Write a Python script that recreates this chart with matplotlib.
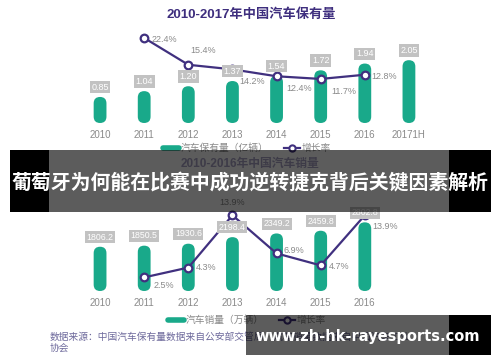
import numpy as np
import matplotlib.pyplot as plt
from matplotlib.patches import FancyBboxPatch, Rectangle
from matplotlib.lines import Line2D

plt.rcParams['font.family'] = ['Liberation Sans', 'Noto Sans CJK SC', 'DejaVu Sans']

# 数据
years_top = ['2010', '2011', '2012', '2013', '2014', '2015', '2016', '20171H']
stock = [0.85, 1.04, 1.20, 1.37, 1.54, 1.72, 1.94, 2.05]
stock_growth = [22.4, 15.4, 14.2, 12.4, 11.7, 12.8]   # 2011-2016

years_bot = ['2010', '2011', '2012', '2013', '2014', '2015', '2016']
sales = [1806.2, 1850.5, 1930.6, 2198.4, 2349.2, 2459.8, 2802.8]
sales_growth = [2.5, 4.3, 13.9, 6.9, 4.7, 13.9]        # 2011-2016

# 增长率标签偏移 (points)
top_offsets = [(5, -1, 'left'), (11, 10, 'center'), (14, -9, 'center'),
               (16, -9, 'center'), (17, -9, 'center'), (4.5, -1, 'left')]
bot_offsets = [(14, -6, 'center'), (5.5, 0, 'left'), (0, 9, 'center'),
               (5, 2, 'left'), (5.5, -1, 'left'), (5.5, -8, 'left')]

GREEN = '#19a98a'
PURPLE = '#40307f'
GRAY = '#8a8a8a'
BOXGRAY = '#c2c2c2'

W, H = 500, 362
fig = plt.figure(figsize=(5, 3.62), dpi=100)


def rounded_bars(ax, x, vals, width):
    bars = ax.bar(x, vals, width=width)
    p0 = ax.transData.transform((0, 0))
    p1 = ax.transData.transform((1, 1))
    aspect = (p1[0] - p0[0]) / (p1[1] - p0[1])
    for b in bars:
        bx, by = b.get_x(), b.get_y()
        bw, bh = b.get_width(), b.get_height()
        b.remove()
        ax.add_patch(FancyBboxPatch((bx, by), bw, bh,
                                    boxstyle=f'round,pad=0,rounding_size={bw / 2}',
                                    mutation_aspect=aspect, fc=GREEN, ec='none'))


def draw_chart(bottom_px, top_px, labels, vals, growth, ymax, gmin, gmax,
               fmt, offsets, lab_size):
    ax = fig.add_axes([78 / W, 1 - bottom_px / H, 353 / W, (bottom_px - top_px) / H])
    x = np.arange(len(labels))
    ax.set_xlim(-0.5, 7.5)
    ax.set_ylim(0, ymax)
    rounded_bars(ax, x, vals, 0.29)
    ax.set_xticks(x)
    ax.set_xticklabels(labels, fontsize=7, color=GRAY)
    ax.tick_params(axis='x', length=0, pad=5)
    ax.set_yticks([])
    for s in ax.spines.values():
        s.set_visible(False)

    ax2 = ax.twinx()
    ax2.set_ylim(gmin, gmax)
    ax2.set_axis_off()
    gx = x[1:len(growth) + 1]
    ax2.plot(gx, growth, color=PURPLE, lw=1.6, marker='o', ms=5.5,
             mfc='white', mec=PURPLE, mew=1.6, zorder=2)
    for xi, g, (dx, dy, ha) in zip(gx, growth, offsets):
        ax2.annotate(f'{g}%', (xi, g), xytext=(dx, dy), textcoords='offset points',
                     ha=ha, va='center', fontsize=6.5, color=GRAY)
    for xi, v in zip(x, vals):
        ax2.annotate(fmt.format(v), (xi, v), xycoords=ax.transData,
                     xytext=(0, 7), textcoords='offset points',
                     ha='center', va='center', fontsize=lab_size, color='white',
                     zorder=5,
                     bbox=dict(boxstyle='square,pad=0.18', fc=BOXGRAY, ec='none'))
    return ax, ax2


ax_t, ax_t2 = draw_chart(123, 28, years_top, stock, stock_growth, 3.10, 0.2, 25.0,
                         '{:.2f}', top_offsets, 6.5)
ax_b, ax_b2 = draw_chart(291, 200, years_bot, sales, sales_growth, 3714, 0, 16.7,
                         '{:.1f}', bot_offsets, 6.3)

# 标题
fig.text(251 / W, 1 - 15 / H, '2010-2017年中国汽车保有量', ha='center', va='center',
         fontsize=9.5, fontweight='bold', color='#3e2e7e')
# 被横幅遮住的下图标题
fig.text(250 / W, 1 - 164 / H, '2010-2016年中国汽车销量', ha='center', va='center',
         fontsize=8.5, fontweight='bold', color='#a9a3c6')

# 图例
def legend(ax, name, ypx):
    handles = [Line2D([], [], color=GREEN, lw=4, solid_capstyle='round'),
               Line2D([], [], color=PURPLE, lw=1.6, marker='o', ms=4.5,
                      mfc='white', mec=PURPLE, mew=1.5)]
    lg = ax.legend(handles, [name, '增长率'], ncol=2, frameon=False,
                   loc='center', bbox_to_anchor=(247 / W, 1 - ypx / H),
                   bbox_transform=fig.transFigure, fontsize=7,
                   handlelength=1.6, handletextpad=0.2, columnspacing=1.6,
                   borderaxespad=0)
    for t in lg.get_texts():
        t.set_color(GRAY)

legend(ax_t2, '汽车保有量（亿辆）', 148)
legend(ax_b2, '汽车销量（万辆）', 320)

# 数据来源
fig.text(50 / W, 1 - 337 / H,
         '数据来源：中国汽车保有量数据来自公安部交管局，汽车销量数据来自中国汽车工业',
         ha='left', va='center', fontsize=7, style='italic', color='#6e6a9c')
fig.text(50 / W, 1 - 348 / H, '协会', ha='left', va='center', fontsize=7,
         style='italic', color='#6e6a9c')

# 遮罩横幅
def band(x0, x1, y0, y1, color, alpha):
    fig.add_artist(Rectangle((x0 / W, 1 - y1 / H), (x1 - x0) / W, (y1 - y0) / H,
                             transform=fig.transFigure, fc=color, ec='none',
                             alpha=alpha, zorder=10))

band(10, 49, 150, 212, 'black', 1)
band(49, 449, 150, 212, 'black', 0.64)
band(449, 491, 150, 212, 'black', 1)
fig.text(250 / W, 1 - 183 / H, '葡萄牙为何能在比赛中成功逆转捷克背后关键因素解析',
         ha='center', va='center', fontsize=14.3, fontweight='bold', color='white',
         family=['Noto Sans CJK SC', 'DejaVu Sans'], zorder=11)

band(246, 449, 315, 355, 'black', 0.64)
band(449, 491, 315, 355, 'black', 1)
fig.text(368 / W, 1 - 337 / H, 'www.zh-hk-rayesports.com', ha='center', va='center',
         fontsize=10.5, fontweight='bold', color='white', family='DejaVu Sans',
         zorder=11)

fig.savefig('out.png', dpi=100)
